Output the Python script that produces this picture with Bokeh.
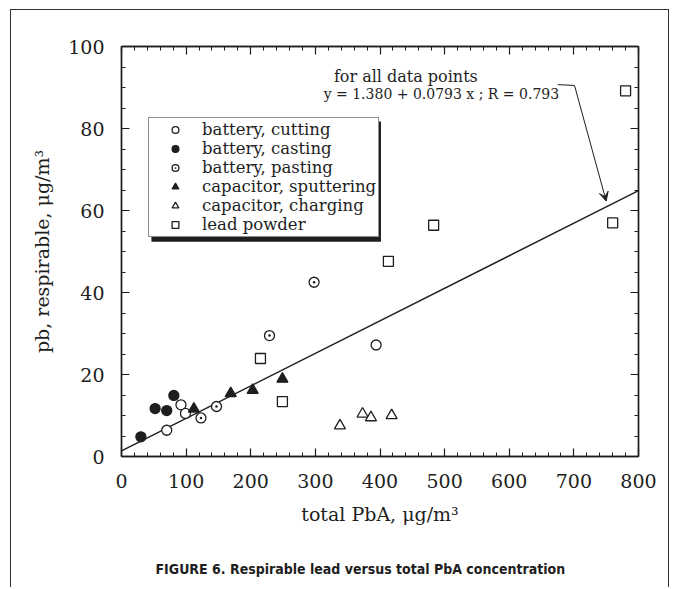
from bokeh.plotting import figure
from bokeh.models import (LinearAxis, SingleIntervalTicker, Label, Arrow, VeeHead,
                          BoxAnnotation, Range1d, Title)
from bokeh.embed import file_html
from bokeh.resources import INLINE

# ---------------- data ----------------
cut_x = [70, 92, 99, 394]
cut_y = [6.4, 12.6, 10.5, 27.2]
cast_x = [30, 52, 70, 81]
cast_y = [4.8, 11.7, 11.2, 14.9]
paste_x = [123, 147, 229, 298]
paste_y = [9.4, 12.2, 29.5, 42.5]
sput_x = [112, 169, 203, 249]
sput_y = [11.6, 15.4, 16.2, 18.9]
charg_x = [338, 373, 386, 418]
charg_y = [7.5, 10.4, 9.5, 10.0]
lead_x = [215, 249, 413, 483, 760, 780]
lead_y = [23.9, 13.4, 47.6, 56.4, 57.0, 89.2]

fit_intercept = 1.380
fit_slope = 0.0793
fit_r = 0.793
x_min, x_max = 0, 800
y_min, y_max = 0, 100

series_labels = ["battery, cutting", "battery, casting", "battery, pasting",
                 "capacitor, sputtering", "capacitor, charging", "lead powder"]
x_title = "total PbA, \u03bcg/m\u00b3"
y_title = "pb, respirable, \u03bcg/m\u00b3"
caption = "FIGURE 6. Respirable lead versus total PbA concentration"
note1 = "for all data points"
note2 = "y = %.3f + %.4f x ; R = %.3f" % (fit_intercept, fit_slope, fit_r)

INK = "#1e1e1e"
SERIF = "DejaVu Serif"

p = figure(width=659, height=578, x_range=Range1d(x_min, x_max), y_range=Range1d(y_min, y_max),
           output_backend="svg", toolbar_location=None,
           min_border_left=110, min_border_right=32, min_border_top=36, min_border_bottom=132)
p.margin = (9, 0, 0, 10)
p.styles = {"border-top": "1.5px solid #333", "border-left": "1.5px solid #333",
            "border-right": "1.5px solid #333"}
p.grid.visible = False
p.outline_line_color = INK
p.outline_line_width = 1.5
p.background_fill_color = "white"
p.border_fill_color = "white"

xt = SingleIntervalTicker(interval=100, num_minor_ticks=5)
yt = SingleIntervalTicker(interval=20, num_minor_ticks=4)


def style_axis(ax):
    ax.major_tick_in = 8
    ax.major_tick_out = 0
    ax.minor_tick_in = 4
    ax.minor_tick_out = 0
    ax.axis_line_color = INK
    ax.axis_line_width = 1.3
    ax.major_tick_line_color = INK
    ax.minor_tick_line_color = INK
    ax.major_tick_line_width = 1.2
    ax.minor_tick_line_width = 1.0
    ax.major_label_text_font = SERIF
    ax.major_label_text_font_size = "19px"
    ax.major_label_text_color = INK
    ax.axis_label_text_font = SERIF
    ax.axis_label_text_font_size = "19px"
    ax.axis_label_text_font_style = "normal"
    ax.axis_label_text_color = INK


xa = p.xaxis[0]
xa.ticker = xt
style_axis(xa)
xa.major_label_standoff = 17

ya = p.yaxis[0]
ya.ticker = yt
style_axis(ya)
ya.major_label_standoff = 17
ya.axis_label = y_title
ya.axis_label_standoff = 12

top = LinearAxis(ticker=SingleIntervalTicker(interval=100, num_minor_ticks=5),
                 major_label_overrides={v: "" for v in range(0, 801, 100)})
style_axis(top)
top.major_label_standoff = 0
p.add_layout(top, "above")
right = LinearAxis(ticker=SingleIntervalTicker(interval=20, num_minor_ticks=4),
                   major_label_overrides={v: "" for v in range(0, 101, 20)})
style_axis(right)
right.major_label_standoff = 0
p.add_layout(right, "right")

# x-axis title and caption stacked below the axis
p.add_layout(Title(text=x_title, align="center", standoff=20, text_font=SERIF,
                   text_font_style="normal", text_font_size="19px", text_color=INK), "below")
p.add_layout(Title(text=" ", align="center", standoff=0, text_font=SERIF,
                   text_font_size="9px"), "below")
p.add_layout(Title(text=caption, align="left", offset=34, standoff=24,
                   text_font="DejaVu Sans Condensed, Liberation Sans", text_font_style="bold",
                   text_font_size="14px", text_color=INK), "below")

# legend shadow
shadow = BoxAnnotation(left=46.3, right=401.5, top=81.7, bottom=52.4,
                       fill_color=INK, fill_alpha=1.0, line_alpha=0)
p.add_layout(shadow)

# regression line
fx = [x_min, x_max]
fy = [fit_intercept + fit_slope * v for v in fx]
p.line(fx, fy, line_color=INK, line_width=1.4)

p.scatter(cut_x, cut_y, marker="circle", size=10, fill_color="white", line_color=INK,
          line_width=1.3, legend_label=series_labels[0])
p.scatter(cast_x, cast_y, marker="circle", size=10, fill_color=INK, line_color=INK,
          line_width=1.3, legend_label=series_labels[1])
p.scatter(paste_x, paste_y, marker="circle_dot", size=10, fill_color="white", line_color=INK,
          line_width=1.3, legend_label=series_labels[2])
p.scatter(sput_x, sput_y, marker="triangle", size=11, fill_color=INK, line_color=INK,
          line_width=1.3, legend_label=series_labels[3])
p.scatter(charg_x, charg_y, marker="triangle", size=11, fill_color="white", line_color=INK,
          line_width=1.3, legend_label=series_labels[4])
p.scatter(lead_x, lead_y, marker="square", size=10, fill_color="white", line_color=INK,
          line_width=1.3, legend_label=series_labels[5])

lg = p.legend[0]
lg.location = (27, 219)
lg.margin = 0
lg.padding = 2
lg.spacing = 0
lg.label_height = 17
lg.glyph_height = 17
lg.glyph_width = 48
lg.label_standoff = 3
lg.label_text_font = SERIF
lg.label_text_font_size = "16.5px"
lg.label_text_line_height = 1.0
lg.label_text_color = INK
lg.border_line_color = INK
lg.border_line_width = 1.5
lg.background_fill_color = "white"
lg.background_fill_alpha = 1.0

# annotation
p.add_layout(Label(x=440, y=92.7, text=note1, text_align="center", text_baseline="middle",
                   text_font=SERIF, text_font_size="16px", text_color=INK))
p.add_layout(Label(x=495, y=88.5, text=note2, text_align="center", text_baseline="middle",
                   text_font=SERIF, text_font_size="14px", text_color=INK))
p.line([675, 701], [90.7, 90.5], line_color=INK, line_width=1.0)
p.add_layout(Arrow(end=VeeHead(size=9, fill_color=INK, line_color=INK),
                   x_start=701, y_start=90.5, x_end=750, y_end=62.3,
                   line_color=INK, line_width=1.0))

open("out.html", "w").write(file_html(p, INLINE))
